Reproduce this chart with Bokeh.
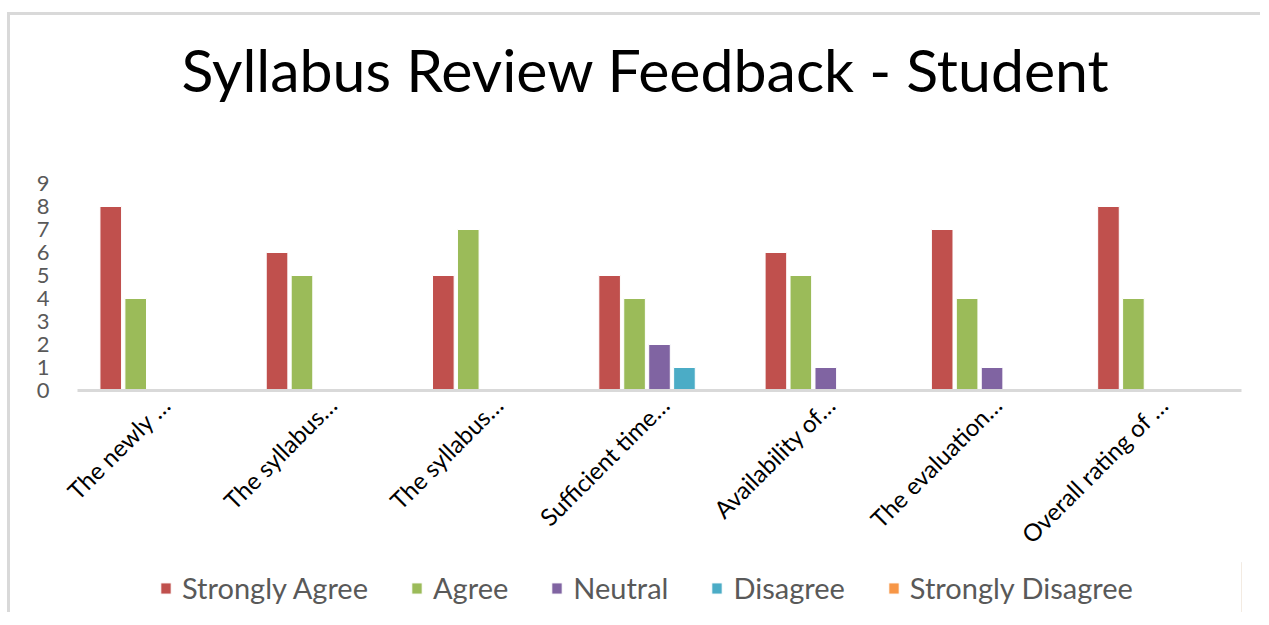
import math
from bokeh.plotting import figure
from bokeh.layouts import column
from bokeh.models import Range1d, FixedTicker, Legend, LegendItem, ColumnDataSource, Title
from bokeh.embed import file_html
from bokeh.resources import INLINE

categories = ["The newly …", "The syllabus…", "The syllabus…", "Sufficient time…",
              "Availability of…", "The evaluation…", "Overall rating of …"]
series_names = ["Strongly Agree", "Agree", "Neutral", "Disagree", "Strongly Disagree"]
strongly_agree = [8, 6, 5, 5, 6, 7, 8]
agree = [4, 5, 7, 4, 5, 4, 4]
neutral = [0, 0, 0, 2, 1, 1, 0]
disagree = [0, 0, 0, 1, 0, 0, 0]
strongly_disagree = [0, 0, 0, 0, 0, 0, 0]
y_ticks = [0, 1, 2, 3, 4, 5, 6, 7, 8, 9]

series_values = [strongly_agree, agree, neutral, disagree, strongly_disagree]
colors = ["#C0504D", "#9BBB59", "#8064A2", "#4BACC6", "#F79646"]
offsets = [-0.3, -0.15, 0.0, 0.15, 0.3]

W = 1250
p = figure(width=W, height=547, output_backend="svg", toolbar_location=None,
           x_range=Range1d(0, len(categories)), y_range=Range1d(0, 9),
           min_border_left=67, min_border_right=19, min_border_top=166,
           min_border_bottom=172)

p.title.text = "Syllabus Review Feedback - Student"
p.title.text_font = "Lato"
p.title.text_font_size = "59px"
p.title.text_font_style = "normal"
p.title.text_color = "#000000"
p.title.align = "left"
p.title.offset = 104
p.title.standoff = 32
# spacer between the title and the plot area
p.add_layout(Title(text=" ", text_font_size="10px", standoff=50), "above")

p.outline_line_color = None
p.xgrid.grid_line_color = None
p.ygrid.grid_line_color = None

for name, vals, col, off in zip(series_names, series_values, colors, offsets):
    xs = [i + 0.5 + off for i in range(len(categories))]
    src = ColumnDataSource(dict(x=xs, top=vals))
    p.vbar(x="x", top="top", width=0.13, source=src, fill_color=col,
           line_color="white", line_width=1)

# y axis
p.yaxis.ticker = FixedTicker(ticks=y_ticks)
p.yaxis.axis_line_color = None
p.yaxis.major_tick_line_color = None
p.yaxis.minor_tick_line_color = None
p.yaxis.major_label_text_font = "Lato"
p.yaxis.major_label_text_font_size = "22px"
p.yaxis.major_label_text_color = "#595959"
p.yaxis.major_label_standoff = 22

# x axis (labels anchored a little right of the group centre, as in the original)
tick_pos = [i + 0.53 for i in range(len(categories))]
p.xaxis.ticker = FixedTicker(ticks=tick_pos)
p.xaxis.major_label_overrides = {t: c for t, c in zip(tick_pos, categories)}
p.xaxis.major_label_orientation = math.pi / 4
p.xaxis.axis_line_color = "#d9d9d9"
p.xaxis.axis_line_width = 3
p.xaxis.major_tick_line_color = None
p.xaxis.minor_tick_line_color = None
p.xaxis.major_label_text_font = "Lato"
p.xaxis.major_label_text_font_size = "24px"
p.xaxis.major_label_text_color = "#000000"
p.xaxis.major_label_standoff = 4

# legend strip below the chart
pl = figure(width=W, height=50, output_backend="svg", toolbar_location=None,
            x_range=Range1d(0, 1), y_range=Range1d(0, 1),
            min_border_left=0, min_border_right=0, min_border_top=0, min_border_bottom=0)
pl.axis.visible = False
pl.grid.visible = False
pl.outline_line_color = None
items = []
for name, col in zip(series_names, colors):
    r = pl.vbar(x=[5], top=[1], width=0.1, fill_color=col, line_color="white")
    items.append(LegendItem(label=name, renderers=[r]))

legend = Legend(items=items, orientation="horizontal", location=(82, 7))
legend.label_text_font = "Lato"
legend.label_text_font_size = "29px"
legend.label_text_color = "#595959"
legend.glyph_width = 13
legend.glyph_height = 14
legend.label_standoff = 10
legend.spacing = 42
legend.padding = 2
legend.margin = 0
legend.border_line_color = None
legend.background_fill_alpha = 0
pl.add_layout(legend, "center")

layout = column(p, pl, spacing=0,
                styles={"border-top": "3px solid #d9d9d9", "border-left": "3px solid #d9d9d9",
                        "margin-top": "12px", "margin-left": "7px"})

open("out.html", "w").write(file_html(layout, INLINE))
